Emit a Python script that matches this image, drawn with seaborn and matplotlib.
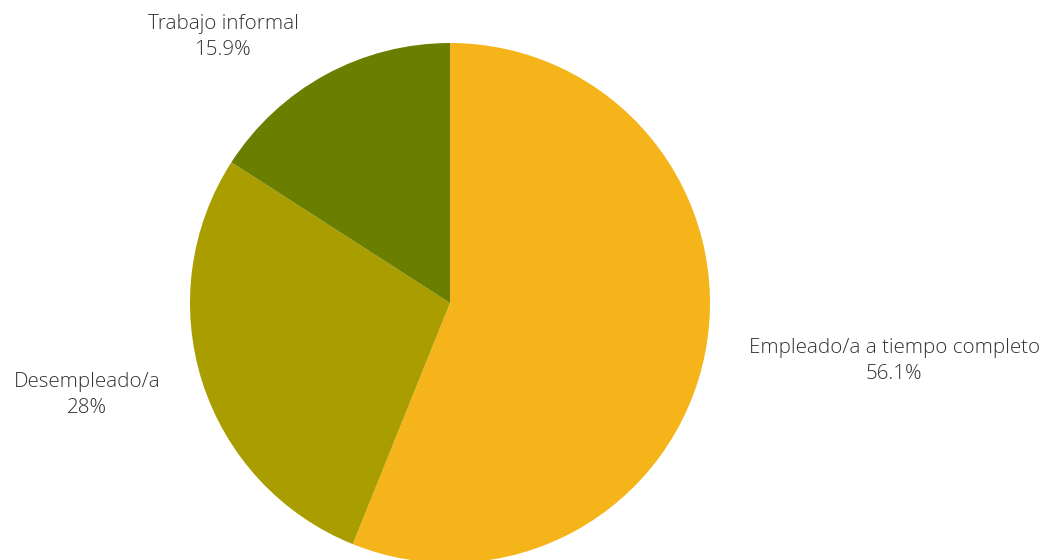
import matplotlib
matplotlib.use("Agg")
import matplotlib.pyplot as plt
import seaborn as sns

sns.set_theme(style="white")
plt.rcParams['font.family'] = ['Open Sans', 'DejaVu Sans']

categories = ["Empleado/a a tiempo completo", "Desempleado/a", "Trabajo informal"]
values = [56.1, 28, 15.9]
value_labels = ["56.1%", "28%", "15.9%"]
colors = ["#F4B41A", "#A99D00", "#6A7F00"]

fig = plt.figure(figsize=(10.43, 5.6), dpi=100)
ax = fig.add_axes([0, 0, 1, 1])

labels = [f"{c}\n{v}" for c, v in zip(categories, value_labels)]
wedges, texts = ax.pie(values, labels=labels, colors=colors, startangle=90,
                       counterclock=False, center=(450, 257), radius=260,
                       labeldistance=1.17, frame=True,
                       wedgeprops=dict(linewidth=0),
                       textprops=dict(fontsize=14.8, color="#333333",
                                      fontweight="light", multialignment="center",
                                      linespacing=1.38))
ax.set_xlim(0, 1043)
ax.set_ylim(0, 560)
ax.set_aspect("equal")
ax.axis("off")

# pie picks alignment from absolute x, fix it for the left-hand label
texts[0].set_ha("left")
texts[1].set_ha("right")

# informal-work label sits above the pie in the reference
texts[2].set_position((223, 523))
texts[2].set_ha("center")
texts[2].set_va("center")

fig.savefig("out.png", dpi=100)
